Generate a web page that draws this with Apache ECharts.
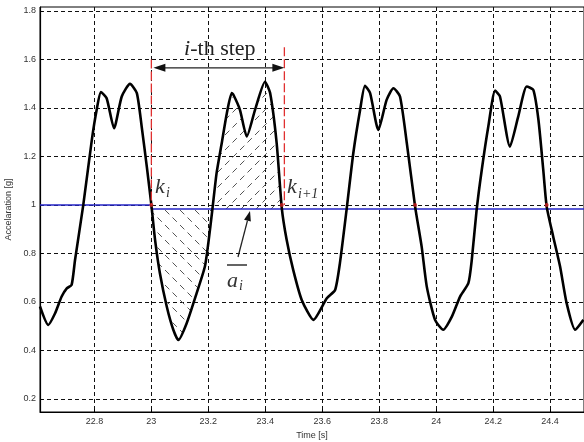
<!DOCTYPE html>
<html>
<head>
<meta charset="utf-8">
<script src="https://cdn.jsdelivr.net/npm/echarts@6/dist/echarts.min.js"></script>
<style>
  html, body { margin: 0; padding: 0; background: #fff; }
  #chart { width: 584px; height: 442px; }
</style>
</head>
<body>
<div id="chart"></div>
<script>
// time samples [s] and acceleration [g]
const timeValues = [
  22.609, 22.638, 22.662, 22.685, 22.703, 22.720, 22.732, 22.761, 22.791, 22.808,
  22.823, 22.843, 22.869, 22.896, 22.925, 22.949, 22.966, 22.984, 23.000, 23.013,
  23.030, 23.054, 23.077, 23.095, 23.124, 23.159, 23.188, 23.200, 23.214, 23.229,
  23.247, 23.265, 23.282, 23.288, 23.311, 23.335, 23.364, 23.399, 23.417, 23.440,
  23.458, 23.475, 23.498, 23.528, 23.569, 23.616, 23.645, 23.662, 23.686, 23.709,
  23.733, 23.750, 23.768, 23.797, 23.826, 23.850, 23.873, 23.897, 23.926, 23.949,
  23.967, 23.996, 24.025, 24.055, 24.084, 24.113, 24.125, 24.142, 24.160, 24.183,
  24.207, 24.224, 24.259, 24.288, 24.318, 24.341, 24.359, 24.376, 24.388, 24.411,
  24.435, 24.458, 24.488, 24.517
];
const accelValues = [
  0.581, 0.505, 0.553, 0.622, 0.656, 0.670, 0.773, 1.000, 1.268, 1.392,
  1.465, 1.440, 1.316, 1.447, 1.499, 1.461, 1.323, 1.158, 1.000, 0.856,
  0.718, 0.581, 0.485, 0.443, 0.512, 0.636, 0.746, 0.842, 0.979, 1.131,
  1.254, 1.378, 1.461, 1.454, 1.392, 1.282, 1.392, 1.508, 1.461, 1.254,
  0.986, 0.856, 0.732, 0.608, 0.526, 0.615, 0.649, 0.760, 0.986, 1.213,
  1.392, 1.491, 1.461, 1.309, 1.433, 1.481, 1.447, 1.254, 0.993, 0.828,
  0.663, 0.526, 0.485, 0.539, 0.622, 0.677, 0.773, 0.979, 1.144, 1.323,
  1.471, 1.447, 1.240, 1.364, 1.488, 1.474, 1.351, 1.144, 0.993, 0.869,
  0.746, 0.595, 0.485, 0.526
];

// mean level (blue line)
const meanTimes = [22.609, 23.0, 23.0, 24.519];
const meanValues = [1.0, 1.0, 0.983, 0.983];

// step boundaries k_i, k_i+1 and the crossing where the trace meets the mean
const stepStart = 23.0;
const stepMid = 23.214;
const stepEnd = 23.458;
const stepMarkTimes = [23.0, 23.467];
const stepMarkTops = [1.60, 1.65];

// red crossing markers
const crossTimes = [23.0, 23.458, 23.926, 24.388];
const crossValues = [1.0, 1.0, 1.0, 1.0];

const xTicks = [22.8, 23, 23.2, 23.4, 23.6, 23.8, 24, 24.2, 24.4];
const yTicks = [0.2, 0.4, 0.6, 0.8, 1, 1.2, 1.4, 1.6, 1.8];

const curve = timeValues.map((t, i) => [t, accelValues[i]]);
const slice = (a, b) => curve.filter(p => p[0] >= a - 1e-9 && p[0] <= b + 1e-9);

// diagonal dashed hatch
function hatch(dir) {
  const s = 15;
  const c = document.createElement('canvas');
  c.width = s; c.height = s;
  const g = c.getContext('2d');
  g.strokeStyle = '#555';
  g.lineWidth = 1;
  const d = Math.sqrt(2) * s / 2;
  g.setLineDash([d * 0.58, d * 0.42]);
  g.beginPath();
  if (dir === 'back') { g.moveTo(0, 0); g.lineTo(s, s); }
  else { g.moveTo(0, s); g.lineTo(s, 0); }
  g.stroke();
  return { image: c, repeat: 'repeat' };
}

const chart = echarts.init(document.getElementById('chart'));
const labelFont = { fontFamily: 'Liberation Sans', fontSize: 9, color: '#333' };
const gridLine = { show: true, lineStyle: { color: '#111', width: 1, type: [4, 3] } };

chart.setOption({
  animation: false,
  grid: {
    left: 40, right: 0, top: 7, bottom: 30, containLabel: false, outerBoundsMode: 'none',
    show: true, borderColor: '#000', borderWidth: 1
  },
  xAxis: {
    type: 'value', min: 22.609, max: 24.519,
    name: 'Time [s]', nameLocation: 'middle', nameGap: 16,
    nameTextStyle: labelFont,
    axisLine: { lineStyle: { color: '#000', width: 1.2 } },
    axisTick: { inside: true, length: 3, customValues: xTicks, lineStyle: { color: '#000' } },
    axisLabel: Object.assign({ customValues: xTicks, margin: 5 }, labelFont),
    splitLine: gridLine
  },
  yAxis: {
    type: 'value', min: 0.146, max: 1.816,
    name: 'Accelaration [g]', nameLocation: 'middle', nameGap: 21,
    nameTextStyle: labelFont,
    axisLine: { show: true, lineStyle: { color: '#000', width: 1.2 } },
    axisTick: { show: true, inside: true, length: 3, customValues: yTicks, lineStyle: { color: '#000' } },
    axisLabel: Object.assign({ customValues: yTicks, margin: 4 }, labelFont),
    splitLine: gridLine
  },
  series: [
    {
      type: 'line', data: slice(stepStart, stepMid), smooth: 0.2, showSymbol: false,
      lineStyle: { width: 0 }, areaStyle: { origin: 0.983, color: hatch('back'), opacity: 1 }, z: 1
    },
    {
      type: 'line', data: slice(stepMid, stepEnd), smooth: 0.2, showSymbol: false,
      lineStyle: { width: 0 }, areaStyle: { origin: 0.983, color: hatch('fwd'), opacity: 1 }, z: 1
    },
    {
      type: 'line', data: meanTimes.map((t, i) => [t, meanValues[i]]), showSymbol: false,
      lineStyle: { color: '#2626c8', width: 1.5 }, z: 2
    },
    {
      type: 'line', data: curve, smooth: 0.2, showSymbol: false,
      lineStyle: { color: '#000', width: 2.6 }, z: 3
    },
    {
      type: 'scatter', data: crossTimes.map((t, i) => [t, crossValues[i]]),
      symbolSize: 4, itemStyle: { color: '#d02020' }, z: 4
    }
  ]
});

// annotations
const px = (x, y) => chart.convertToPixel({ gridIndex: 0 }, [x, y]);
const serif = 'Liberation Serif';
const graphics = [];

stepMarkTimes.forEach((t, i) => {
  const a = px(t, stepMarkTops[i]);
  const b = px(t, 1.0);
  graphics.push({
    type: 'line', shape: { x1: a[0], y1: a[1], x2: b[0], y2: b[1] },
    style: { stroke: '#e03030', lineWidth: 1.3, lineDash: [9, 3] }, z: 10
  });
});

// double arrow for the step
const arrowY = px(stepMarkTimes[0], 1.565)[1];
const ax1 = px(stepMarkTimes[0], 1.565)[0] + 2;
const ax2 = px(stepMarkTimes[1], 1.565)[0];
graphics.push(
  { type: 'line', shape: { x1: ax1 + 8, y1: arrowY, x2: ax2 - 8, y2: arrowY }, style: { stroke: '#222', lineWidth: 1.4 }, z: 10 },
  { type: 'polygon', shape: { points: [[ax1, arrowY], [ax1 + 12, arrowY - 4], [ax1 + 12, arrowY + 4]] }, style: { fill: '#111' }, z: 10 },
  { type: 'polygon', shape: { points: [[ax2, arrowY], [ax2 - 12, arrowY - 4], [ax2 - 12, arrowY + 4]] }, style: { fill: '#111' }, z: 10 },
  {
    type: 'text', x: (ax1 + ax2) / 2 + 1, y: 49, z: 10,
    style: {
      text: '{it|i}-th step', align: 'center', verticalAlign: 'middle',
      font: '22px ' + serif, fill: '#222',
      rich: { it: { fontStyle: 'italic', fontFamily: serif, fontSize: 22 } }
    }
  }
);

// k_i and k_{i+1}  (baseline positions, bottom-aligned boxes)
function italic(x, base, str, size) {
  graphics.push({
    type: 'text', x: x, y: base + Math.round(size * 0.22), z: 10,
    style: { text: str, font: 'italic ' + size + 'px ' + serif, fill: '#333', verticalAlign: 'bottom' }
  });
}
italic(155, 193, 'k', 22);
italic(166, 197, 'i', 14);
italic(287, 193, 'k', 22);
italic(298, 198, 'i+1', 14);

// mean label a_i with overline and arrow
graphics.push(
  { type: 'line', shape: { x1: 227, y1: 265, x2: 247, y2: 265 }, style: { stroke: '#222', lineWidth: 1.4 }, z: 10 }
);
italic(227, 287, 'a', 22);
italic(239, 290, 'i', 14);

const tipX = 250, tipY = px(23.3, 0.983)[1] + 2;
const tailX = 238, tailY = 257;
const ang = Math.atan2(tipY - tailY, tipX - tailX);
const hl = 10, hw = 3.5;
const bx = tipX - hl * Math.cos(ang), by = tipY - hl * Math.sin(ang);
graphics.push(
  { type: 'line', shape: { x1: tailX, y1: tailY, x2: bx, y2: by }, style: { stroke: '#222', lineWidth: 1.3 }, z: 10 },
  {
    type: 'polygon', z: 10, style: { fill: '#111' },
    shape: { points: [[tipX, tipY], [bx - hw * Math.sin(ang), by + hw * Math.cos(ang)], [bx + hw * Math.sin(ang), by - hw * Math.cos(ang)]] }
  }
);

chart.setOption({ graphic: graphics });
</script>
</body>
</html>
